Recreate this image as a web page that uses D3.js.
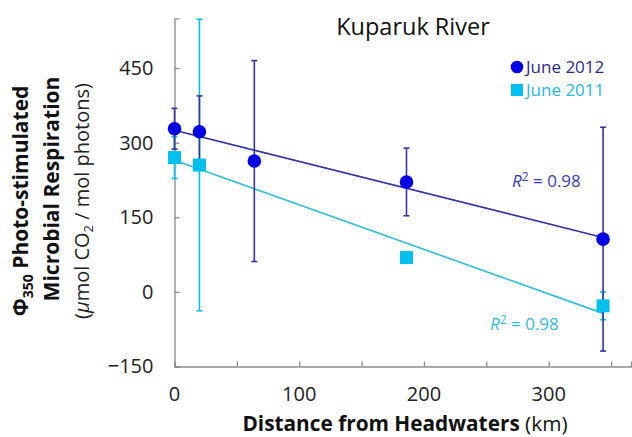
<!DOCTYPE html>
<html>
<head>
<meta charset="utf-8">
<script src="https://cdn.jsdelivr.net/npm/d3@7"></script>
<style>
  body { margin: 0; background: #fff; }
  text { font-family: "Open Sans", sans-serif; }
</style>
</head>
<body>
<div id="chart-area"></div>
<script>

// data
var dist2012 = [0, 20, 64, 186, 343.6];
var resp2012 = [328, 322, 263, 221, 106];
var err2012  = [41, 72, 202, 68, 225];

var dist2011 = [0, 20, 186, 343.6];
var resp2011 = [270, 255, 69, -28];
var err2011  = [42, 293, 4, 28];

var yTicks = [-150, 0, 150, 300, 450];
var xTicks = [0, 100, 200, 300];

var margin = { left: 174.5, right: 1, top: 18.3, bottom: 70.5 };
var width = 632 - margin.left - margin.right,
    height = 437 - margin.top - margin.bottom;

var dark = "#3434a8", dot = "#0000e6", cyan = "#00c0f0", cyanLine = "#2fbde0";

var svg = d3.select("#chart-area")
    .append("svg")
        .attr("width", 632)
        .attr("height", 437);
var g = svg.append("g")
        .attr("transform", "translate(" + margin.left + ", " + margin.top + ")");

var x = d3.scaleLinear().domain([0, 366]).range([0, width]);
var y = d3.scaleLinear().domain([-150, 550]).range([height, 0]);

// axes
var xAxisCall = d3.axisBottom(x).tickValues(d3.range(0, 351, 50)).tickSize(-5).tickFormat("");
g.append("g")
    .attr("class", "x axis")
    .attr("transform", "translate(0," + height + ")")
    .call(xAxisCall);
var yAxisCall = d3.axisLeft(y).tickValues(yTicks).tickSize(-5).tickFormat("");
g.append("g")
    .attr("class", "y axis")
    .call(yAxisCall);
g.selectAll(".axis path, .axis line").attr("stroke", "#8c8c8c").attr("stroke-width", 1.3);

// tick labels
g.selectAll(".ylab").data(yTicks).enter().append("text")
    .attr("x", -21)
    .attr("y", function(d){ return y(d) + 7; })
    .attr("text-anchor", "end")
    .attr("font-size", "20px")
    .attr("fill", "#222")
    .text(function(d){ return d < 0 ? "\u2212" + (-d) : d; });
g.selectAll(".xlab").data(xTicks).enter().append("text")
    .attr("x", function(d){ return x(d); })
    .attr("y", height + 35)
    .attr("text-anchor", "middle")
    .attr("font-size", "20px")
    .attr("fill", "#222")
    .text(function(d){ return d; });

// trend lines (least squares)
function fit(xs, ys) {
    var mx = d3.mean(xs), my = d3.mean(ys);
    var sxy = d3.sum(xs, function(v, i){ return (v - mx) * (ys[i] - my); });
    var sxx = d3.sum(xs, function(v){ return (v - mx) * (v - mx); });
    var b = sxy / sxx;
    return { b: b, a: my - b * mx };
}
function trend(xs, ys, color) {
    var f = fit(xs, ys);
    var x0 = d3.min(xs), x1 = d3.max(xs);
    g.append("line")
        .attr("x1", x(x0)).attr("y1", y(f.a + f.b * x0))
        .attr("x2", x(x1)).attr("y2", y(f.a + f.b * x1))
        .attr("stroke", color).attr("stroke-width", 1.6);
}
trend(dist2012, resp2012, dark);
trend(dist2011, resp2011, cyanLine);

// error bars
function errBars(xs, ys, es, color) {
    xs.forEach(function(d, i) {
        var top = ys[i] + es[i], bot = ys[i] - es[i];
        g.append("line").attr("x1", x(d)).attr("x2", x(d))
            .attr("y1", y(top)).attr("y2", y(bot))
            .attr("stroke", color).attr("stroke-width", 1.6);
        [top, bot].forEach(function(v) {
            g.append("line").attr("x1", x(d) - 3).attr("x2", x(d) + 3)
                .attr("y1", y(v)).attr("y2", y(v))
                .attr("stroke", color).attr("stroke-width", 1.6);
        });
    });
}
errBars(dist2011, resp2011, err2011, cyan);
errBars(dist2012, resp2012, err2012, dark);

// markers
g.selectAll(".sq").data(dist2011).enter().append("rect")
    .attr("x", function(d){ return x(d) - 6.5; })
    .attr("y", function(d, i){ return y(resp2011[i]) - 6.5; })
    .attr("width", 13).attr("height", 13)
    .attr("fill", cyan);
g.selectAll(".dot").data(dist2012).enter().append("circle")
    .attr("cx", function(d){ return x(d); })
    .attr("cy", function(d, i){ return y(resp2012[i]); })
    .attr("r", 6.8)
    .attr("fill", dot);

// title
svg.append("text")
    .attr("x", 413).attr("y", 35)
    .attr("text-anchor", "middle")
    .attr("font-size", "23.5px")
    .attr("fill", "#111")
    .text("Kuparuk River");

// legend
svg.append("circle").attr("cx", 517).attr("cy", 67).attr("r", 6.3).attr("fill", dot);
svg.append("text").attr("x", 526).attr("y", 73).attr("font-size", "17px").attr("fill", "#2a2a8a").text("June 2012");
svg.append("rect").attr("x", 511).attr("y", 84).attr("width", 12).attr("height", 12).attr("fill", cyan);
svg.append("text").attr("x", 526).attr("y", 96).attr("font-size", "17px").attr("fill", "#22b8e6").text("June 2011");

// R2 labels
function r2(xp, yp, color) {
    var t = svg.append("text").attr("x", xp).attr("y", yp).attr("font-size", "17px").attr("fill", color);
    t.append("tspan").attr("font-style", "italic").text("R");
    t.append("tspan").attr("font-size", "12px").attr("dy", -6).text("2");
    t.append("tspan").attr("dy", 6).text(" = 0.98");
}
r2(512, 187, "#3a3acc");
r2(490, 330, "#2fbde0");

// X label
var xl = svg.append("text")
    .attr("x", 405).attr("y", 431)
    .attr("text-anchor", "middle")
    .attr("font-size", "20.8px")
    .attr("fill", "#111");
xl.append("tspan").attr("font-weight", "bold").text("Distance from Headwaters");
xl.append("tspan").text(" (km)");

// Y label
var yl = svg.append("g").attr("transform", "rotate(-90)");
var l1 = yl.append("text")
    .attr("x", -201).attr("y", 28)
    .attr("text-anchor", "middle")
    .attr("font-size", "21px")
    .attr("font-weight", "bold")
    .attr("fill", "#111");
l1.append("tspan").text("\u03A6");
l1.append("tspan").attr("font-size", "14px").attr("dy", 5).text("350");
l1.append("tspan").attr("dy", -5).text(" Photo-stimulated");
yl.append("text")
    .attr("x", -189).attr("y", 59)
    .attr("text-anchor", "middle")
    .attr("font-size", "21px")
    .attr("font-weight", "bold")
    .attr("fill", "#111")
    .text("Microbial Respiration");
var l3 = yl.append("text")
    .attr("x", -201).attr("y", 89)
    .attr("text-anchor", "middle")
    .attr("font-size", "20px")
    .attr("fill", "#222");
l3.append("tspan").text("(");
l3.append("tspan").attr("font-style", "italic").text("\u03BC");
l3.append("tspan").text("mol CO");
l3.append("tspan").attr("font-size", "13px").attr("dy", 4).text("2");
l3.append("tspan").attr("dy", -4).text(" / mol photons)");

</script>
</body>
</html>
